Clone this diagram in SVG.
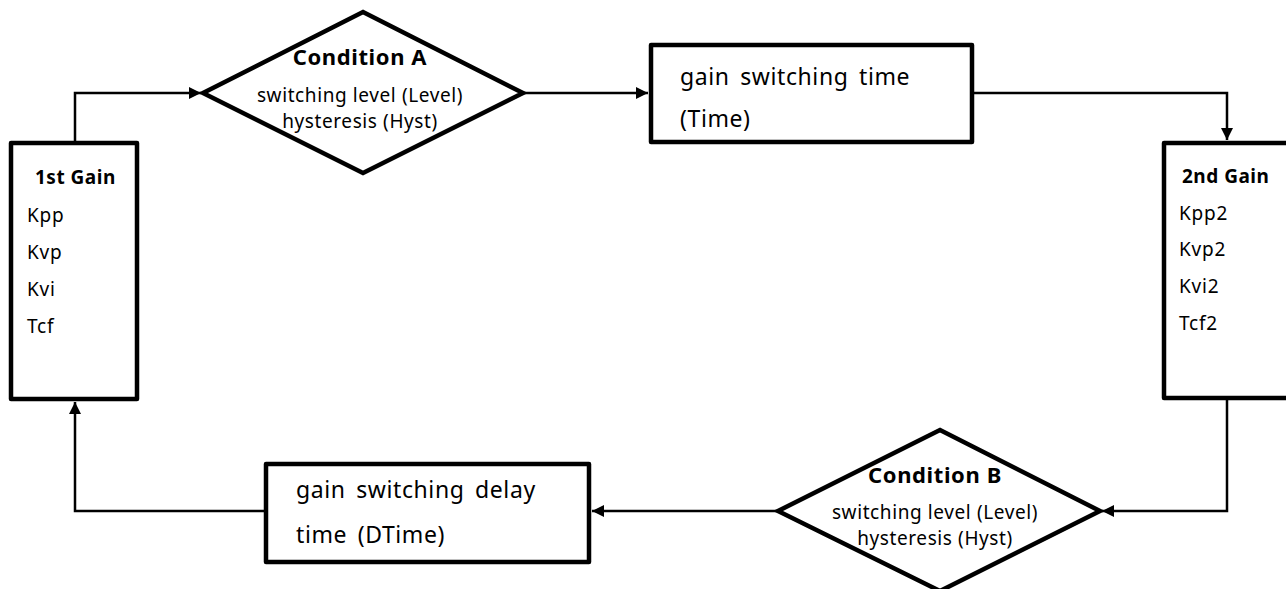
<svg xmlns="http://www.w3.org/2000/svg" width="1286" height="589" viewBox="0 0 1286 589">
<style>
.box{fill:#fff;stroke:#000;stroke-width:4.5;stroke-linejoin:round}
.dia{fill:#fff;stroke:#000;stroke-width:4.5;stroke-linejoin:miter}
.con{fill:none;stroke:#000;stroke-width:2.5}
text{font-family:"Noto Sans","Liberation Sans",sans-serif;fill:#000}
.b{font-weight:bold;font-size:19px;letter-spacing:0.5px}
.g{font-size:19px;letter-spacing:0.8px}
.c{font-size:19px;letter-spacing:0.6px;text-anchor:middle}
.cb{font-size:22px;font-weight:bold;letter-spacing:0.6px;text-anchor:middle}
.t{font-size:23px;letter-spacing:0.6px;word-spacing:4px}
</style>
<defs>
<marker id="arr" markerUnits="userSpaceOnUse" markerWidth="13" markerHeight="12" refX="12" refY="6" orient="auto">
<path d="M0,0 L12,6 L0,12 z" fill="#000"/>
</marker>
</defs>
<g id="connectors">
<path class="con" d="M75,142 V93 H201" marker-end="url(#arr)"/>
<path class="con" d="M523,93 H648" marker-end="url(#arr)"/>
<path class="con" d="M972,93 H1227 V140" marker-end="url(#arr)"/>
<path class="con" d="M1227,398 V511 H1102" marker-end="url(#arr)"/>
<path class="con" d="M778,511 H592" marker-end="url(#arr)"/>
<path class="con" d="M265,511 H75 V402" marker-end="url(#arr)"/>
</g>
<g id="gain1">
<rect class="box" x="11" y="143" width="126" height="256"/>
<text class="b" x="35" y="184">1st Gain</text>
<text class="g" x="27" y="222">Kpp</text>
<text class="g" x="27" y="259">Kvp</text>
<text class="g" x="27" y="296">Kvi</text>
<text class="g" x="27" y="333">Tcf</text>
</g>
<g id="condA">
<polygon class="dia" points="363,12 523,93 363,173 203,93"/>
<text class="cb" x="360" y="65">Condition A</text>
<text class="c" x="360" y="102">switching level (Level)</text>
<text class="c" x="360" y="128">hysteresis (Hyst)</text>
</g>
<g id="timebox">
<rect class="box" x="651" y="45" width="321" height="97"/>
<text class="t" x="680" y="85">gain switching time</text>
<text class="t" x="680" y="127">(Time)</text>
</g>
<g id="gain2">
<rect class="box" x="1164" y="143" width="140" height="255"/>
<text class="b" x="1182" y="183">2nd Gain</text>
<text class="g" x="1179" y="220">Kpp2</text>
<text class="g" x="1179" y="256">Kvp2</text>
<text class="g" x="1179" y="293">Kvi2</text>
<text class="g" x="1179" y="330">Tcf2</text>
</g>
<g id="condB">
<polygon class="dia" points="940,430 1100,511 940,591 778,511"/>
<text class="cb" x="935" y="483">Condition B</text>
<text class="c" x="935" y="519">switching level (Level)</text>
<text class="c" x="935" y="545">hysteresis (Hyst)</text>
</g>
<g id="delaybox">
<rect class="box" x="266" y="464" width="323" height="98"/>
<text class="t" x="296" y="498">gain switching delay</text>
<text class="t" x="296" y="543">time (DTime)</text>
</g>
</svg>
